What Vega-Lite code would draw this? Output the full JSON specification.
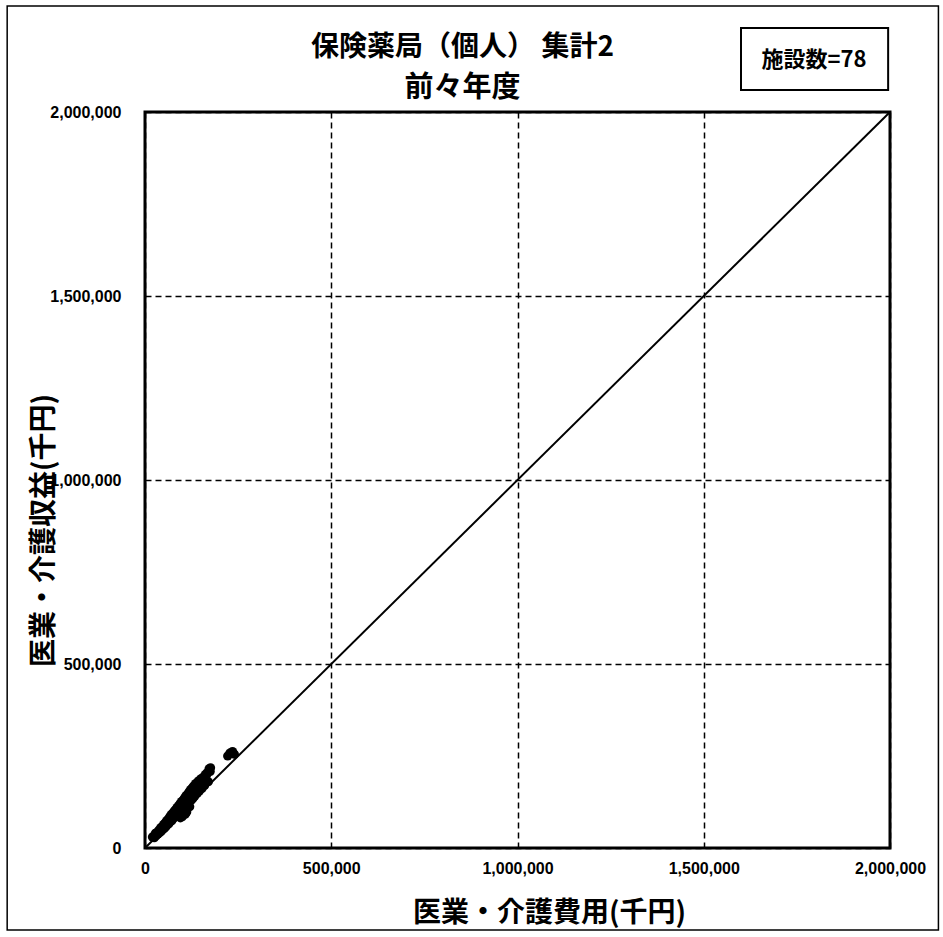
{
  "$schema": "https://vega.github.io/schema/vega-lite/v6.json",
  "width": 745,
  "height": 736,
  "autosize": {"type": "none"},
  "padding": {"left": 145, "top": 112, "right": 53, "bottom": 89},
  "background": "white",
  "title": {
    "text": "保険薬局（個人） 集計2",
    "subtitle": "前々年度",
    "anchor": "middle",
    "dx": -55,
    "dy": 104,
    "offset": 6,
    "font": "Noto Sans CJK JP",
    "fontSize": 28,
    "fontWeight": "bold",
    "color": "black",
    "subtitleFont": "Noto Sans CJK JP",
    "subtitleFontSize": 29,
    "subtitleFontWeight": "bold",
    "subtitleColor": "black",
    "subtitlePadding": 12
  },
  "config": {
    "view": {"stroke": "black", "strokeWidth": 3},
    "axis": {
      "domain": false,
      "ticks": false,
      "grid": true,
      "gridColor": "black",
      "gridDash": [6, 4],
      "gridWidth": 1.5,
      "gridOpacity": 1,
      "labelFont": "Liberation Sans",
      "labelFontWeight": "bold",
      "labelFontSize": 16,
      "labelColor": "black",
      "titleFont": "Noto Sans CJK JP",
      "titleFontWeight": "bold",
      "titleFontSize": 28,
      "titleColor": "black"
    }
  },
  "encoding": {
    "x": {
      "field": "x",
      "type": "quantitative",
      "scale": {"domain": [0, 2000000], "nice": false, "zero": false},
      "axis": {
        "title": "医業・介護費用(千円)",
        "values": [0, 500000, 1000000, 1500000, 2000000],
        "format": ",d",
        "labelFlush": false,
        "labelOverlap": false,
        "labelPadding": 12,
        "titleX": 404,
        "titleY": 65,
        "titleBaseline": "middle"
      }
    },
    "y": {
      "field": "y",
      "type": "quantitative",
      "scale": {"domain": [0, 2000000], "nice": false, "zero": false},
      "axis": {
        "title": "医業・介護収益(千円)",
        "values": [0, 500000, 1000000, 1500000, 2000000],
        "format": ",d",
        "labelFlush": false,
        "labelOverlap": false,
        "labelPadding": 24,
        "titleX": -101,
        "titleY": 418,
        "titleBaseline": "middle"
      }
    }
  },
  "layer": [
    {
      "data": {"values": [{"x": -370000, "x2": 2130000, "y": -223000, "y2": 2288000}]},
      "mark": {"type": "rect", "fill": null, "fillOpacity": 0, "stroke": "black", "strokeWidth": 1.5},
      "encoding": {"x2": {"field": "x2"}, "y2": {"field": "y2"}}
    },
    {
      "data": {"values": [{"x": 0, "y": 0}, {"x": 2000000, "y": 2000000}]},
      "mark": {"type": "line", "color": "black", "strokeWidth": 2},
      "encoding": {}
    },
    {
      "data": {"values": [
        {"x": 20000, "y": 30000}, {"x": 25000, "y": 28000}, {"x": 28000, "y": 40000}, {"x": 30000, "y": 33000},
        {"x": 32000, "y": 42000}, {"x": 35000, "y": 38000}, {"x": 37000, "y": 48000}, {"x": 40000, "y": 42000},
        {"x": 42000, "y": 55000}, {"x": 44000, "y": 46000}, {"x": 46000, "y": 58000}, {"x": 48000, "y": 50000},
        {"x": 50000, "y": 64000}, {"x": 52000, "y": 54000}, {"x": 54000, "y": 68000}, {"x": 56000, "y": 58000},
        {"x": 58000, "y": 74000}, {"x": 60000, "y": 63000}, {"x": 62000, "y": 78000}, {"x": 64000, "y": 66000},
        {"x": 66000, "y": 84000}, {"x": 68000, "y": 72000}, {"x": 70000, "y": 90000}, {"x": 72000, "y": 74000},
        {"x": 74000, "y": 94000}, {"x": 76000, "y": 80000}, {"x": 78000, "y": 100000}, {"x": 80000, "y": 84000},
        {"x": 82000, "y": 104000}, {"x": 84000, "y": 88000}, {"x": 86000, "y": 110000}, {"x": 88000, "y": 92000},
        {"x": 90000, "y": 115000}, {"x": 92000, "y": 97000}, {"x": 94000, "y": 120000}, {"x": 96000, "y": 100000},
        {"x": 98000, "y": 126000}, {"x": 100000, "y": 105000}, {"x": 102000, "y": 130000}, {"x": 104000, "y": 108000},
        {"x": 106000, "y": 136000}, {"x": 108000, "y": 112000}, {"x": 110000, "y": 142000}, {"x": 112000, "y": 117000},
        {"x": 114000, "y": 146000}, {"x": 116000, "y": 121000}, {"x": 118000, "y": 152000}, {"x": 120000, "y": 126000},
        {"x": 122000, "y": 158000}, {"x": 124000, "y": 130000}, {"x": 126000, "y": 162000}, {"x": 128000, "y": 134000},
        {"x": 130000, "y": 168000}, {"x": 133000, "y": 140000}, {"x": 136000, "y": 175000}, {"x": 140000, "y": 148000},
        {"x": 143000, "y": 182000}, {"x": 146000, "y": 155000}, {"x": 150000, "y": 188000}, {"x": 153000, "y": 162000},
        {"x": 156000, "y": 192000}, {"x": 160000, "y": 170000}, {"x": 100000, "y": 85000}, {"x": 108000, "y": 92000},
        {"x": 112000, "y": 98000}, {"x": 120000, "y": 112000}, {"x": 95000, "y": 82000}, {"x": 165000, "y": 198000},
        {"x": 170000, "y": 180000}, {"x": 175000, "y": 208000}, {"x": 168000, "y": 205000}, {"x": 172000, "y": 215000},
        {"x": 162000, "y": 200000}, {"x": 176000, "y": 218000}, {"x": 222000, "y": 250000}, {"x": 228000, "y": 258000},
        {"x": 235000, "y": 262000}, {"x": 240000, "y": 255000}
      ]},
      "mark": {"type": "circle", "color": "black", "opacity": 1, "size": 85}
    },
    {
      "data": {"values": [{"x": 1600000, "x2": 1995000, "y": 2060000, "y2": 2228000}]},
      "mark": {"type": "rect", "fill": "white", "stroke": "black", "strokeWidth": 2},
      "encoding": {"x2": {"field": "x2"}, "y2": {"field": "y2"}}
    },
    {
      "data": {"values": [{"x": 1796000, "y": 2141000, "label": "施設数=78"}]},
      "mark": {"type": "text", "font": "Noto Sans CJK JP", "fontSize": 22, "fontWeight": "bold", "color": "black", "align": "center", "baseline": "middle"},
      "encoding": {"text": {"field": "label"}}
    }
  ]
}
